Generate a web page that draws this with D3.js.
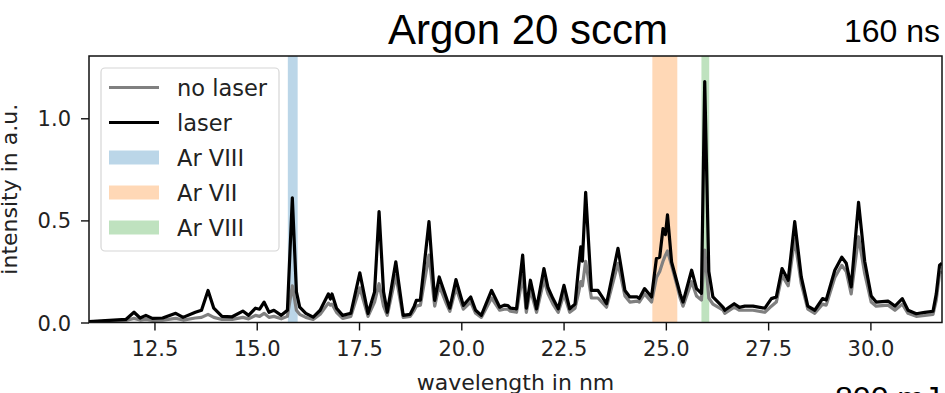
<!DOCTYPE html>
<html>
<head>
<meta charset="utf-8">
<script src="https://cdn.jsdelivr.net/npm/d3@7"></script>
<style>
  body { margin: 0; background: #fff; }
  svg { display: block; }
  .tick text { font-family: "DejaVu Sans", sans-serif; font-size: 21px; fill: #222; }
</style>
</head>
<body>
<div id="chart"></div>
<script>
// --data--
const wavelengths = [10.90, 11.20, 11.50, 11.80, 12.00, 12.15, 12.29, 12.45, 12.70, 13.02, 13.20, 13.50, 13.65, 13.81, 13.95,
  14.15, 14.40, 14.66, 14.80, 14.97, 15.07, 15.18, 15.30, 15.42, 15.60, 15.75, 15.87, 15.97, 16.05, 16.20, 16.38, 16.55,
  16.75, 16.80, 16.84, 16.95, 17.10, 17.30, 17.52, 17.72, 17.88, 17.99, 18.10, 18.19, 18.40, 18.58, 18.75, 18.85, 18.90,
  19.00, 19.21, 19.35, 19.46, 19.64, 19.72, 19.87, 20.05, 20.23, 20.35, 20.49, 20.74, 20.94, 21.05, 21.14, 21.20, 21.35,
  21.50, 21.59, 21.69, 21.84, 22.02, 22.12, 22.24, 22.37, 22.51, 22.65, 22.78, 22.86, 22.92, 22.96, 23.04, 23.18, 23.34,
  23.55, 23.83, 24.00, 24.12, 24.30, 24.35, 24.48, 24.65, 24.77, 24.85, 24.93, 24.99, 25.04, 25.14, 25.26, 25.35, 25.42,
  25.63, 25.75, 25.87, 25.95, 26.05, 26.15, 26.40, 26.44, 26.67, 26.80, 26.93, 27.13, 27.42, 27.58, 27.70, 27.84, 27.99,
  28.15, 28.31, 28.47, 28.64, 28.83, 28.92, 29.13, 29.30, 29.41, 29.53, 29.71, 29.86, 30.02, 30.14, 30.43, 30.60, 30.78,
  30.92, 31.12, 31.33, 31.53, 31.61, 31.69, 31.75];

const laser = [0.005, 0.008, 0.012, 0.015, 0.050, 0.022, 0.035, 0.020, 0.022, 0.045, 0.025, 0.050, 0.060, 0.157, 0.070,
  0.030, 0.028, 0.056, 0.035, 0.070, 0.065, 0.100, 0.050, 0.060, 0.035, 0.060, 0.610, 0.150, 0.075, 0.045, 0.026, 0.060,
  0.140, 0.115, 0.140, 0.070, 0.035, 0.045, 0.243, 0.044, 0.150, 0.543, 0.150, 0.050, 0.297, 0.035, 0.040, 0.080, 0.108,
  0.110, 0.494, 0.108, 0.223, 0.117, 0.070, 0.210, 0.084, 0.125, 0.060, 0.035, 0.157, 0.075, 0.085, 0.083, 0.070, 0.067,
  0.330, 0.070, 0.207, 0.067, 0.264, 0.170, 0.117, 0.067, 0.182, 0.067, 0.090, 0.256, 0.370, 0.300, 0.637, 0.157, 0.157,
  0.092, 0.363, 0.157, 0.125, 0.125, 0.117, 0.166, 0.125, 0.314, 0.320, 0.460, 0.430, 0.527, 0.297, 0.207, 0.140, 0.100,
  0.256, 0.166, 0.143, 1.180, 0.250, 0.125, 0.074, 0.060, 0.092, 0.074, 0.080, 0.080, 0.070, 0.117, 0.125, 0.264, 0.207,
  0.494, 0.223, 0.080, 0.060, 0.117, 0.110, 0.256, 0.320, 0.290, 0.174, 0.588, 0.300, 0.130, 0.100, 0.105, 0.080, 0.117,
  0.060, 0.043, 0.050, 0.055, 0.140, 0.280, 0.290];

const noLaser = [0.003, 0.005, 0.008, 0.010, 0.020, 0.012, 0.015, 0.010, 0.012, 0.020, 0.012, 0.022, 0.025, 0.040, 0.025,
  0.015, 0.015, 0.025, 0.018, 0.035, 0.030, 0.045, 0.025, 0.030, 0.018, 0.030, 0.180, 0.060, 0.040, 0.025, 0.015, 0.040,
  0.095, 0.085, 0.090, 0.050, 0.020, 0.030, 0.170, 0.030, 0.100, 0.190, 0.080, 0.035, 0.230, 0.025, 0.030, 0.060, 0.080,
  0.085, 0.330, 0.080, 0.180, 0.090, 0.055, 0.170, 0.065, 0.100, 0.045, 0.025, 0.120, 0.060, 0.065, 0.065, 0.055, 0.050,
  0.230, 0.050, 0.160, 0.050, 0.210, 0.140, 0.090, 0.050, 0.140, 0.050, 0.070, 0.140, 0.200, 0.180, 0.300, 0.120, 0.120,
  0.075, 0.290, 0.130, 0.100, 0.105, 0.100, 0.140, 0.100, 0.220, 0.250, 0.300, 0.330, 0.350, 0.280, 0.190, 0.120, 0.080,
  0.200, 0.130, 0.110, 0.355, 0.120, 0.090, 0.060, 0.045, 0.075, 0.060, 0.060, 0.060, 0.050, 0.080, 0.100, 0.230, 0.180,
  0.410, 0.190, 0.065, 0.045, 0.090, 0.085, 0.220, 0.280, 0.250, 0.140, 0.420, 0.240, 0.100, 0.080, 0.085, 0.060, 0.090,
  0.045, 0.030, 0.035, 0.040, 0.110, 0.240, 0.250];

// highlighted lines (axvspan)
const bandLabels = ["Ar VIII", "Ar VII", "Ar VIII"];
const bandStart = [15.76, 24.67, 25.87];
const bandEnd = [16.00, 25.28, 26.06];

const seriesLabels = ["no laser", "laser"];
const xTicks = [12.5, 15.0, 17.5, 20.0, 22.5, 25.0, 27.5, 30.0];
const yTicks = [0.0, 0.5, 1.0];

// --graph--
const W = 945, H = 393;
const m_left = 89, m_right = 942, m_top = 56, m_bottom = 322.5;
const bandColors = d3.schemeCategory10.slice(0, 3);

const svg = d3.select("#chart").append("svg")
  .attr("width", W)
  .attr("height", H);

const x = d3.scaleLinear().domain([10.9, 31.75]).range([m_left, m_right]);
const y = d3.scaleLinear().domain([0, 1.305]).range([m_bottom, m_top]);

svg.append("clipPath").attr("id", "plot-clip")
  .append("rect")
  .attr("x", m_left).attr("y", m_top)
  .attr("width", m_right - m_left).attr("height", m_bottom - m_top);

// bands behind the lines
svg.append("g")
  .selectAll("rect")
  .data(bandLabels)
  .join("rect")
  .attr("x", (d, i) => x(bandStart[i]))
  .attr("width", (d, i) => x(bandEnd[i]) - x(bandStart[i]))
  .attr("y", m_top)
  .attr("height", m_bottom - m_top)
  .attr("fill", (d, i) => bandColors[i])
  .attr("fill-opacity", 0.3);

const points = wavelengths.map((w, i) => ({ w: w, laser: laser[i], noLaser: noLaser[i] }));

const line_for = key => d3.line()
  .x(d => x(d.w))
  .y(d => y(d[key]));

const plot = svg.append("g").attr("clip-path", "url(#plot-clip)");

plot.append("path")
  .datum(points)
  .attr("d", line_for("noLaser"))
  .attr("fill", "none")
  .attr("stroke", "grey")
  .attr("stroke-width", 3.2)
  .attr("stroke-linejoin", "round");

plot.append("path")
  .datum(points)
  .attr("d", line_for("laser"))
  .attr("fill", "none")
  .attr("stroke", "black")
  .attr("stroke-width", 3.2)
  .attr("stroke-linejoin", "round");

// axes
const xAxis = svg.append("g")
  .attr("transform", `translate(0,${m_bottom})`)
  .call(d3.axisBottom(x).tickValues(xTicks).tickFormat(d3.format(".1f")).tickSize(8).tickPadding(11));

const yAxis = svg.append("g")
  .attr("transform", `translate(${m_left},0)`)
  .call(d3.axisLeft(y).tickValues(yTicks).tickFormat(d3.format(".1f")).tickSize(8).tickPadding(10));

[xAxis, yAxis].forEach(a => {
  a.select(".domain").remove();
  a.selectAll(".tick line").attr("stroke", "#111").attr("stroke-width", 1.4);
});
yAxis.selectAll(".tick text").attr("dy", "0.36em");

// frame
svg.append("rect")
  .attr("x", m_left).attr("y", m_top)
  .attr("width", m_right - m_left).attr("height", m_bottom - m_top)
  .attr("fill", "none")
  .attr("stroke", "#111")
  .attr("stroke-width", 1.5);

// legend
const legend = svg.append("g");
legend.append("rect")
  .attr("x", 101).attr("y", 68)
  .attr("width", 178).attr("height", 183)
  .attr("rx", 4)
  .attr("fill", "white").attr("fill-opacity", 0.8)
  .attr("stroke", "#d6d6d6").attr("stroke-width", 1.2);

const legendItems = seriesLabels.map((l, i) => ({ label: l, kind: "line", color: i === 0 ? "grey" : "black" }))
  .concat(bandLabels.map((l, i) => ({ label: l, kind: "patch", color: bandColors[i] })));

const item = legend.selectAll(".item")
  .data(legendItems)
  .join("g")
  .attr("class", "item")
  .attr("transform", (d, i) => `translate(0,${87.5 + i * 35})`);

item.filter(d => d.kind === "line").append("line")
  .attr("x1", 109).attr("x2", 159)
  .attr("stroke", d => d.color)
  .attr("stroke-width", 3.2);

item.filter(d => d.kind === "patch").append("rect")
  .attr("x", 109).attr("y", -7).attr("width", 50).attr("height", 14)
  .attr("fill", d => d.color)
  .attr("fill-opacity", 0.3);

item.append("text")
  .attr("x", 177).attr("y", 8)
  .style("font-family", "DejaVu Sans")
  .style("font-size", "22.5px")
  .style("fill", "#222")
  .text(d => d.label);

// labels
svg.append("text")
  .attr("x", (m_left + m_right) / 2).attr("y", 390)
  .attr("text-anchor", "middle")
  .style("font-family", "DejaVu Sans").style("font-size", "22px").style("fill", "#222")
  .text("wavelength in nm");

svg.append("text")
  .attr("transform", `translate(17,${(m_top + m_bottom) / 2}) rotate(-90)`)
  .attr("text-anchor", "middle")
  .style("font-family", "DejaVu Sans").style("font-size", "22px").style("fill", "#222")
  .text("intensity in a.u.");

svg.append("text")
  .attr("x", 528).attr("y", 44)
  .attr("text-anchor", "middle")
  .style("font-family", "Liberation Sans").style("font-size", "42px")
  .text("Argon 20 sccm");

svg.append("text")
  .attr("x", 940).attr("y", 42)
  .attr("text-anchor", "end")
  .style("font-family", "Liberation Sans").style("font-size", "32px")
  .text("160 ns");

svg.append("text")
  .attr("x", 940).attr("y", 409)
  .attr("text-anchor", "end")
  .style("font-family", "Liberation Sans").style("font-size", "32px")
  .text("800 mJ");
</script>
</body>
</html>
